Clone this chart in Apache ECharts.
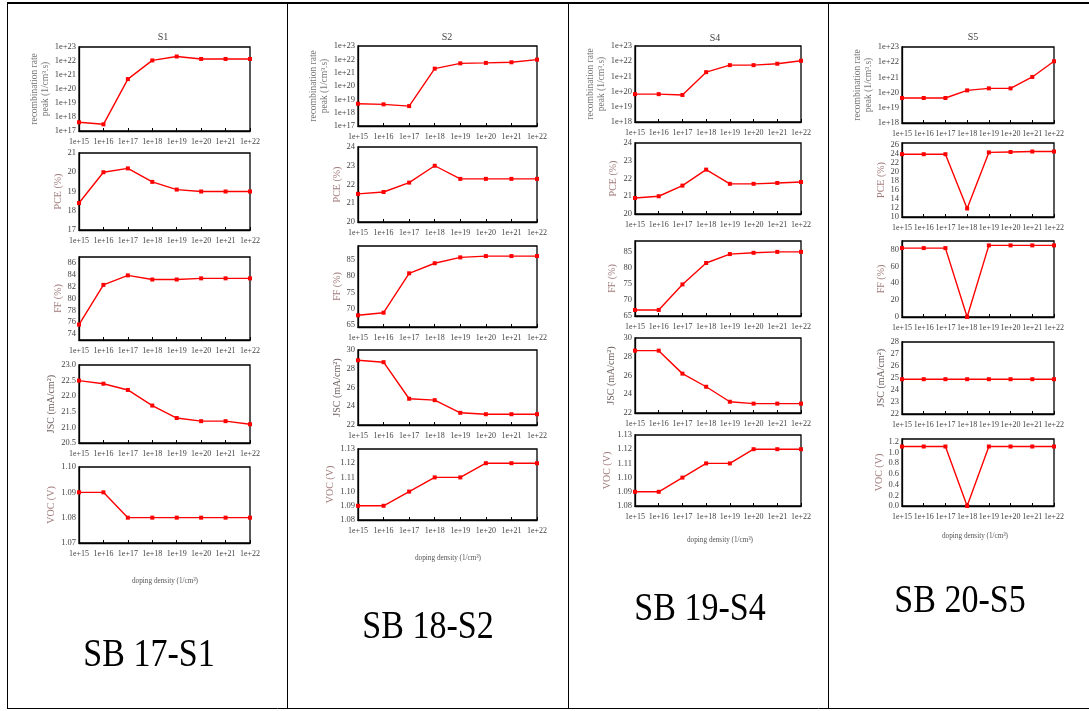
<!DOCTYPE html>
<html><head><meta charset="utf-8">
<script src="https://cdn.jsdelivr.net/npm/echarts@6/dist/echarts.min.js"></script>
<style>html,body{margin:0;padding:0;background:#fff}#c{width:1089px;height:711px}</style>
</head><body><div id="c"></div>
<script>
// ---------- data ----------
const categories = ['1e+15','1e+16','1e+17','1e+18','1e+19','1e+20','1e+21','1e+22'];
const panelNames = ['S1','S2','S4','S5'];
const sampleLabels = ['SB 17-S1','SB 18-S2','SB 19-S4','SB 20-S5'];
const metricNames = ['recombination rate\npeak (1/cm³.s)','PCE (%)','FF (%)','JSC (mA/cm²)','VOC (V)'];
const xAxisTitle = 'doping density (1/cm³)';

const s1Recomb = [4.2e17, 3.0e17, 5.1e20, 1.1e22, 2.1e22, 1.4e22, 1.4e22, 1.4e22];
const s1PCE    = [18.4, 20.0, 20.2, 19.5, 19.1, 19.0, 19.0, 19.0];
const s1FF     = [75.6, 82.3, 83.9, 83.2, 83.2, 83.4, 83.4, 83.4];
const s1JSC    = [22.5, 22.4, 22.2, 21.7, 21.3, 21.2, 21.2, 21.1];
const s1VOC    = [1.09, 1.09, 1.08, 1.08, 1.08, 1.08, 1.08, 1.08];

const s2Recomb = [4.7e18, 4.2e18, 3.1e18, 2.0e21, 5.0e21, 5.4e21, 6.0e21, 9.5e21];
const s2PCE    = [21.5, 21.6, 22.1, 23.0, 22.3, 22.3, 22.3, 22.3];
const s2FF     = [68.0, 68.8, 80.9, 84.0, 85.8, 86.2, 86.2, 86.2];
const s2JSC    = [28.9, 28.7, 24.8, 24.65, 23.3, 23.15, 23.15, 23.15];
const s2VOC    = [1.09, 1.09, 1.10, 1.11, 1.11, 1.12, 1.12, 1.12];

const s4Recomb = [6.8e19, 6.8e19, 6.0e19, 1.9e21, 5.5e21, 5.5e21, 6.8e21, 1.07e22];
const s4PCE    = [20.9, 21.0, 21.6, 22.5, 21.7, 21.7, 21.75, 21.8];
const s4FF     = [66.9, 66.9, 74.9, 81.6, 84.4, 84.8, 85.1, 85.1];
const s4JSC    = [28.65, 28.65, 26.2, 24.8, 23.2, 23.0, 23.0, 23.0];
const s4VOC    = [1.09, 1.09, 1.10, 1.11, 1.11, 1.12, 1.12, 1.12];

const s5Recomb = [4.4e19, 4.4e19, 4.4e19, 1.4e20, 1.9e20, 1.9e20, 1.07e21, 1.15e22];
const s5PCE    = [24.0, 24.0, 24.0, 11.9, 24.4, 24.5, 24.6, 24.6];
const s5FF     = [81.6, 81.6, 81.6, 0, 84.8, 84.8, 84.8, 84.8];
const s5JSC    = [24.9, 24.9, 24.9, 24.9, 24.9, 24.9, 24.9, 24.9];
const s5VOC    = [1.11, 1.11, 1.11, 0, 1.11, 1.11, 1.11, 1.11];

// tick labels (y axes)
const s1RecombRange = [1e17, 1e23];
const s1PCETicks = ['17','18','19','20','21'];
const s1FFTicks  = ['74','76','78','80','82','84','86'];
const s1JSCTicks = ['20.5','21.0','21.5','22.0','22.5','23.0'];
const s1VOCTicks = ['1.07','1.08','1.09','1.10'];

const s2RecombRange = [1e17, 1e23];
const s2PCETicks = ['20','21','22','23','24'];
const s2FFTicks  = ['65','70','75','80','85'];
const s2JSCTicks = ['22','24','26','28','30'];
const s2VOCTicks = ['1.08','1.09','1.10','1.11','1.12','1.13'];

const s4RecombRange = [1e18, 1e23];
const s4PCETicks = ['20','21','22','23','24'];
const s4FFTicks  = ['65','70','75','80','85'];
const s4JSCTicks = ['22','24','26','28','30'];
const s4VOCTicks = ['1.08','1.09','1.10','1.11','1.12','1.13'];

const s5RecombRange = [1e18, 1e23];
const s5PCETicks = ['10','12','14','16','18','20','22','24','26'];
const s5FFTicks  = ['0','20','40','60','80'];
const s5JSCTicks = ['22','23','24','25','26','27','28'];
const s5VOCTicks = ['0.0','0.2','0.4','0.6','0.8','1.0','1.2'];

// ---------- layout ----------
const colLeft  = [79, 358, 635, 902];
const colRight = [250, 537, 801, 1054];
const rowTop = [[47,153,257,365,467],[46,147,246,350,449],[46,143,241,338,435],[47,143,241,342,439]];
const rowBot = [[131,230,340,443,543],[126,222,327,425,520],[122,214,316,413,506],[123,217,317,414,506]];
// axis extents that differ from first/last tick
const axisExt = {
  '0-2':[73,87], '1-2':[64.4,89.3], '2-2':[65,88.5], '3-1':[10,26.5], '3-2':[0,90], '3-4':[0,1.25]
};
const nameGaps = [[19,11,15,17,15],[23,13,14,15,12],[25,16,17,18,18],[19,13,13,11,13]];

const panels = [
  [s1Recomb, s1PCE, s1FF, s1JSC, s1VOC],
  [s2Recomb, s2PCE, s2FF, s2JSC, s2VOC],
  [s4Recomb, s4PCE, s4FF, s4JSC, s4VOC],
  [s5Recomb, s5PCE, s5FF, s5JSC, s5VOC]
];
const recombRanges = [s1RecombRange, s2RecombRange, s4RecombRange, s5RecombRange];
const tickSets = [
  [null, s1PCETicks, s1FFTicks, s1JSCTicks, s1VOCTicks],
  [null, s2PCETicks, s2FFTicks, s2JSCTicks, s2VOCTicks],
  [null, s4PCETicks, s4FFTicks, s4JSCTicks, s4VOCTicks],
  [null, s5PCETicks, s5FFTicks, s5JSCTicks, s5VOCTicks]
];

const FONT = 'Liberation Serif';
const nameColors = ['#777777','#a07a7a','#a07a7a','#6e5f5f','#a07a7a'];
const nameSizes = [9.5, 10, 10, 10, 10];
const grids = [], xAxes = [], yAxes = [], series = [];
for (let c = 0; c < 4; c++) {
  for (let r = 0; r < 5; r++) {
    const idx = grids.length;
    grids.push({
      left: colLeft[c], top: rowTop[c][r],
      width: colRight[c] - colLeft[c], height: rowBot[c][r] - rowTop[c][r],
      show: true, borderColor: '#000', borderWidth: 1.3, backgroundColor: 'transparent'
    });
    xAxes.push({
      type: 'category', gridIndex: idx, data: categories, boundaryGap: false,
      axisLine: { lineStyle: { color: '#000', width: 1.3 } },
      axisTick: { inside: true, length: 3, interval: 0, lineStyle: { color: '#000' } },
      axisLabel: { interval: 0, fontFamily: FONT, fontSize: 8, color: '#444', margin: 7, hideOverlap: false },
      splitLine: { show: false }
    });
    const base = {
      gridIndex: idx, name: metricNames[r], nameLocation: 'middle', nameGap: nameGaps[c][r],
      nameTextStyle: { fontFamily: FONT, fontSize: nameSizes[r], color: nameColors[r], lineHeight: 11 },
      axisLine: { show: true, lineStyle: { color: '#000', width: 1.3 } },
      splitLine: { show: false }
    };
    if (r === 0) {
      const rg = recombRanges[c];
      yAxes.push(Object.assign(base, {
        type: 'log', logBase: 10, min: rg[0], max: rg[1],
        axisTick: { inside: true, length: 3, lineStyle: { color: '#000' } },
        axisLabel: { fontFamily: FONT, fontSize: 8.5, color: '#444', margin: 3,
          formatter: v => '1e+' + Math.round(Math.log10(v)) }
      }));
    } else {
      const ticks = tickSets[c][r];
      const vals = ticks.map(Number);
      const ext = axisExt[c + '-' + r] || [vals[0], vals[vals.length - 1]];
      yAxes.push(Object.assign(base, {
        type: 'value', min: ext[0], max: ext[1],
        axisTick: { inside: true, length: 3, customValues: vals, lineStyle: { color: '#000' } },
        axisLabel: { fontFamily: FONT, fontSize: 8.5, color: '#444', margin: 3, customValues: vals,
          formatter: v => { const i = vals.findIndex(t => Math.abs(t - v) < 1e-9); return i >= 0 ? ticks[i] : ''; } }
      }));
    }
    series.push({
      type: 'line', xAxisIndex: idx, yAxisIndex: idx, data: panels[c][r],
      symbol: 'rect', symbolSize: 4, color: '#ff0000',
      lineStyle: { color: '#ff0000', width: 1.4 }, itemStyle: { color: '#ff0000' },
      animation: false
    });
  }
}

const titlePos = [[163,37],[447,37],[715,38],[973,37]];
const dopingPos = [[165,581],[448,558],[720,540],[975,536]];
const samplePos = [[149,655],[428,627],[700,609],[960,601]];
const graphic = [];
// table borders
const L = { stroke: '#000', lineWidth: 1 };
graphic.push({ type: 'line', shape: { x1: 7, y1: 3, x2: 1089, y2: 3 }, style: { stroke: '#000', lineWidth: 2 } });
graphic.push({ type: 'line', shape: { x1: 7.5, y1: 3, x2: 7.5, y2: 709 }, style: L });
[287.5, 568.5, 828.5].forEach(x => graphic.push({ type: 'line', shape: { x1: x, y1: 3, x2: x, y2: 709 }, style: L }));
graphic.push({ type: 'line', shape: { x1: 7, y1: 708.5, x2: 1089, y2: 708.5 }, style: L });
for (let c = 0; c < 4; c++) {
  graphic.push({ type: 'text', x: titlePos[c][0], y: titlePos[c][1],
    style: { text: panelNames[c], fontFamily: FONT, fontSize: 10, fill: '#444', align: 'center', verticalAlign: 'middle' } });
  graphic.push({ type: 'text', x: dopingPos[c][0], y: dopingPos[c][1], scaleX: 0.85,
    style: { text: xAxisTitle, fontFamily: FONT, fontSize: 8.5, fill: '#555', align: 'center', verticalAlign: 'middle' } });
  graphic.push({ type: 'text', x: samplePos[c][0], y: samplePos[c][1], scaleX: 0.85,
    style: { text: sampleLabels[c], fontFamily: FONT, fontSize: 40, fill: '#000', align: 'center', verticalAlign: 'middle' } });
}

const chart = echarts.init(document.getElementById('c'), null, { renderer: 'canvas' });
chart.setOption({
  backgroundColor: '#fff', animation: false,
  grid: grids, xAxis: xAxes, yAxis: yAxes, series: series, graphic: graphic
});
</script></body></html>
